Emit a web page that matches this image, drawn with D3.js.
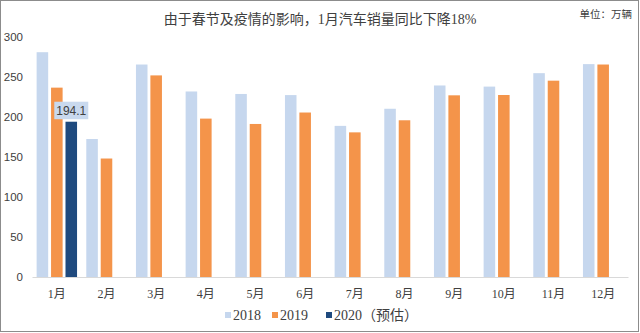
<!DOCTYPE html>
<html><head><meta charset="utf-8">
<script src="https://cdn.jsdelivr.net/npm/d3@7"></script>
<style>
html,body{margin:0;padding:0;background:#fff;}
svg{display:block;}
</style></head>
<body>
<svg id="chart" width="640" height="333"></svg>
<script>
const months = ["1月","2月","3月","4月","5月","6月","7月","8月","9月","10月","11月","12月"];
const seriesNames = ["2018","2019","2020（预估）"];
const sales2018 = [281.0,172.5,265.6,231.9,228.8,227.4,188.9,210.3,239.4,238.0,254.8,266.1];
const sales2019 = [236.7,148.1,252.0,198.0,191.3,205.6,180.8,195.9,227.1,227.5,245.4,265.6];
const sales2020 = [194.1,null,null,null,null,null,null,null,null,null,null,null];
const yTicks = [0,50,100,150,200,250,300];
const colors = ["#c6d7ee","#f4944a","#1f4a7e"];
const titleText = "由于春节及疫情的影响，1月汽车销量同比下降18%";
const unitText = "单位：万辆";

const allSeries = [sales2018, sales2019, sales2020];
const svg = d3.select("#chart");
const W = 640, H = 333;

// border
svg.append("rect").attr("x",0.5).attr("y",0.5).attr("width",W-2).attr("height",331)
  .attr("fill","#fff").attr("stroke","#8c8c8c").attr("stroke-width",1);

const x0 = d3.scaleBand().domain(months).range([32,628]).paddingInner(0).paddingOuter(0);
const x1 = d3.scaleBand().domain(d3.range(3)).range([0,x0.bandwidth()]).paddingInner(0.2).paddingOuter(0.32);
const y = d3.scaleLinear().domain([0,300]).range([277,37]);

const serif = "'Liberation Serif','Noto Sans CJK SC',serif";
const sans = "'Liberation Sans','Noto Sans CJK SC',sans-serif";

// title
svg.append("text").attr("x",320).attr("y",24).attr("text-anchor","middle")
  .attr("font-family",serif).attr("font-size",14).attr("fill","#404040").text(titleText);
svg.append("text").attr("x",632).attr("y",18).attr("text-anchor","end")
  .attr("font-family",sans).attr("font-size",10.5).attr("fill","#404040").text(unitText);

// bars
months.forEach((m,i)=>{
  allSeries.forEach((s,j)=>{
    const v = s[i];
    if(v==null) return;
    svg.append("rect")
      .attr("x", x0(m)+x1(j))
      .attr("y", y(v))
      .attr("width", x1.bandwidth())
      .attr("height", y(0)-y(v))
      .attr("fill", colors[j]);
  });
});

// data label for 2020
{
  const i = 0, v = sales2020[0];
  const cx = x0(months[i]) + x1(2) + x1.bandwidth()/2;
  const g = svg.append("g");
  g.append("rect").attr("x",cx-17).attr("y",y(v)-20).attr("width",34).attr("height",17.5)
    .attr("fill","#c9d9ee");
  g.append("text").attr("x",cx).attr("y",y(v)-7).attr("text-anchor","middle")
    .attr("font-family",sans).attr("font-size",12).attr("fill","#404040").text(v.toFixed(1));
}

// x axis
const xAxis = svg.append("g").attr("transform",`translate(0,${y(0)})`)
  .call(d3.axisBottom(x0).tickSize(0).tickPadding(12));
xAxis.select(".domain").attr("stroke","#d9d9d9").attr("stroke-width",1.2);
xAxis.selectAll("text").attr("font-family",serif).attr("font-size",12).attr("fill","#404040");

// y axis
const yAxis = svg.append("g").attr("transform","translate(23,0)")
  .call(d3.axisLeft(y).tickValues(yTicks).tickSize(0).tickPadding(0));
yAxis.select(".domain").remove();
yAxis.selectAll("text").attr("font-family",sans).attr("font-size",11.5).attr("fill","#404040");

// legend
const legendX = [225, 272, 326];
seriesNames.forEach((n,j)=>{
  svg.append("rect").attr("x",legendX[j]).attr("y",312).attr("width",6).attr("height",6).attr("fill",colors[j]);
  svg.append("text").attr("x",legendX[j]+8).attr("y",320).attr("font-family",serif)
    .attr("font-size",14).attr("fill","#404040").text(n);
});
</script>
</body></html>
